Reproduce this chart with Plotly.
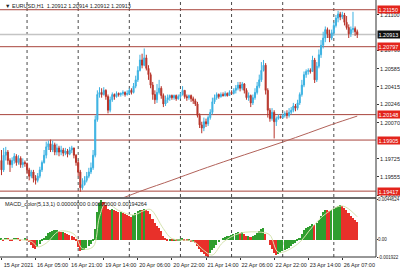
import plotly.graph_objects as go

# ---------------- data ----------------
first_open = 1.1971
closes = [1.1962,1.1976,1.1979,1.1971,1.1967,1.1971,1.1975,1.1969,1.1973,1.1967,
          1.1969,1.1968,1.1962,1.1956,1.1960,1.1954,1.1952,1.1956,1.1962,1.1969,
          1.1976,1.1984,1.1987,1.1981,1.1986,1.1979,1.1983,1.1979,1.1981,1.1978,
          1.1980,1.1977,1.1981,1.1983,1.1976,1.1969,1.1960,1.1945,1.1948,1.1952,
          1.1956,1.1960,1.1964,1.1976,1.2010,1.2034,1.2036,1.2034,1.2038,1.2032,
          1.2019,1.2029,1.2034,1.2032,1.2035,1.2034,1.2035,1.2036,1.2034,1.2035,
          1.2038,1.2036,1.2042,1.2048,1.2057,1.2067,1.2062,1.2069,1.2059,1.2053,
          1.2043,1.2034,1.2029,1.2036,1.2040,1.2033,1.2025,1.2029,1.2031,1.2033,
          1.2031,1.2033,1.2030,1.2032,1.2034,1.2038,1.2032,1.2031,1.2033,1.2030,
          1.2028,1.2025,1.2014,1.2005,1.2002,1.2008,1.2006,1.2012,1.2017,1.2027,
          1.2031,1.2034,1.2032,1.2034,1.2033,1.2035,1.2033,1.2036,1.2035,1.2038,
          1.2040,1.2043,1.2040,1.2044,1.2038,1.2031,1.2033,1.2026,1.2031,1.2036,
          1.2042,1.2048,1.2057,1.2062,1.2038,1.2019,1.2011,1.2017,1.2008,1.2011,
          1.2013,1.2012,1.2014,1.2016,1.2014,1.2017,1.2019,1.2023,1.2021,1.2026,
          1.2034,1.2043,1.2053,1.2056,1.2057,1.2056,1.2067,1.2048,1.2061,1.2072,
          1.2081,1.2088,1.2096,1.2092,1.2088,1.2093,1.2100,1.2107,1.2111,1.2108,
          1.2110,1.2103,1.2098,1.2092,1.2096,1.2097,1.2094,1.20913]
highs = [1.1981,1.1983,1.1984,1.1981,1.1973,1.1974,1.1978,1.1977,1.1976,1.1975,
         1.1973,1.1971,1.1969,1.1964,1.1962,1.1962,1.1957,1.1959,1.1965,1.1971,
         1.1981,1.1989,1.1990,1.1991,1.1990,1.1988,1.1987,1.1985,1.1985,1.1983,
         1.1983,1.1982,1.1984,1.1985,1.1983,1.1977,1.1971,1.1962,1.1954,1.1956,
         1.1960,1.1964,1.1969,1.1981,1.2014,1.2038,1.2041,1.2040,1.2041,1.2039,
         1.2034,1.2032,1.2036,1.2035,1.2037,1.2036,1.2036,1.2038,1.2037,1.2038,
         1.2040,1.2040,1.2045,1.2052,1.2061,1.2072,1.2073,1.2078,1.2072,1.2062,
         1.2055,1.2046,1.2038,1.2044,1.2048,1.2042,1.2035,1.2033,1.2034,1.2034,
         1.2034,1.2034,1.2034,1.2034,1.2036,1.2042,1.2038,1.2034,1.2034,1.2034,
         1.2032,1.2030,1.2027,1.2016,1.2008,1.2012,1.2011,1.2014,1.2020,1.2031,
         1.2034,1.2036,1.2035,1.2036,1.2036,1.2037,1.2036,1.2038,1.2038,1.2040,
         1.2043,1.2046,1.2046,1.2046,1.2045,1.2040,1.2036,1.2034,1.2034,1.2040,
         1.2046,1.2053,1.2065,1.2067,1.2064,1.2040,1.2021,1.2021,1.2019,1.2013,
         1.2015,1.2014,1.2016,1.2018,1.2019,1.2021,1.2022,1.2026,1.2025,1.2029,
         1.2036,1.2048,1.2056,1.2058,1.2059,1.2059,1.2071,1.2069,1.2065,1.2077,
         1.2086,1.2094,1.2099,1.2098,1.2096,1.2096,1.2103,1.2110,1.2114,1.2113,
         1.2113,1.2112,1.2109,1.2101,1.2099,1.2113,1.2099,1.2096]
lows = [1.1957,1.1960,1.1971,1.1967,1.1960,1.1964,1.1968,1.1966,1.1967,1.1964,
        1.1964,1.1965,1.1958,1.1952,1.1954,1.1950,1.1948,1.1950,1.1954,1.1960,
        1.1968,1.1973,1.1981,1.1979,1.1979,1.1976,1.1976,1.1975,1.1976,1.1975,
        1.1976,1.1974,1.1976,1.1978,1.1973,1.1966,1.1956,1.1941,1.1943,1.1947,
        1.1950,1.1954,1.1958,1.1962,1.1974,1.2008,1.2031,1.2031,1.2033,1.2029,
        1.2016,1.2017,1.2027,1.2029,1.2031,1.2032,1.2032,1.2033,1.2032,1.2033,
        1.2034,1.2034,1.2035,1.2040,1.2046,1.2056,1.2059,1.2061,1.2057,1.2048,
        1.2040,1.2029,1.2025,1.2026,1.2034,1.2030,1.2022,1.2023,1.2026,1.2028,
        1.2029,1.2029,1.2028,1.2029,1.2030,1.2033,1.2030,1.2028,1.2029,1.2027,
        1.2025,1.2023,1.2012,1.2002,1.1997,1.1999,1.2003,1.2004,1.2010,1.2015,
        1.2025,1.2029,1.2030,1.2031,1.2032,1.2032,1.2032,1.2033,1.2034,1.2034,
        1.2035,1.2038,1.2037,1.2038,1.2035,1.2029,1.2028,1.2022,1.2024,1.2029,
        1.2034,1.2040,1.2046,1.2056,1.2034,1.2012,1.2008,1.2009,1.1992,1.2004,
        1.2010,1.2011,1.2011,1.2012,1.2011,1.2012,1.2015,1.2017,1.2018,1.2019,
        1.2024,1.2032,1.2041,1.2050,1.2053,1.2054,1.2056,1.2045,1.2046,1.2059,
        1.2069,1.2078,1.2084,1.2088,1.2084,1.2086,1.2090,1.2098,1.2103,1.2105,
        1.2106,1.2100,1.2096,1.2088,1.2089,1.2093,1.2090,1.2088]
opens = [first_open] + closes[:-1]
bars = list(range(len(closes)))

ma_bars = [54, 58, 66, 80, 93, 108, 120, 132, 144, 155, 167]
ma_vals = [1.19331, 1.19360, 1.19422, 1.19522, 1.19618, 1.19723, 1.19804,
           1.19886, 1.19972, 1.20053, 1.20134]

macd = [0.0001,-0.0001,0.0002,0.0001,-0.0001,-0.0002,0.0001,0.0002,0.0001,-0.0001,
        0.0000,0.0001,-0.0001,-0.0003,-0.0006,-0.0009,-0.0010,-0.0008,-0.0005,-0.0002,
        0.0001,0.0004,0.0007,0.0008,0.0009,0.0010,0.0011,0.0009,0.0008,0.0008,
        0.0007,0.0006,0.0005,0.0004,0.0003,-0.0002,-0.0008,-0.0013,-0.0012,-0.0011,
        -0.0009,-0.0007,-0.0005,-0.0002,0.0012,0.0030,0.0040,0.0044,0.0041,0.0038,
        0.0034,0.0033,0.0034,0.0032,0.0031,0.0030,0.0030,0.0029,0.0028,0.0027,
        0.0026,0.0025,0.0027,0.0029,0.0031,0.0033,0.0032,0.0034,0.0033,0.0031,
        0.0028,0.0023,0.0018,0.0015,0.0013,0.0009,0.0004,0.0002,-0.0001,-0.0001,
        -0.0002,-0.0001,-0.0002,-0.0002,-0.0001,0.0001,-0.0001,-0.0002,-0.0002,-0.0003,
        -0.0003,-0.0004,-0.0007,-0.0010,-0.0014,-0.0016,-0.0018,-0.0019,-0.0015,-0.0012,
        -0.0009,-0.0006,-0.0003,0.0000,0.0002,0.0003,0.0004,0.0004,0.0005,0.0006,
        0.0007,0.0008,0.0007,0.0008,0.0006,0.0004,0.0004,0.0003,0.0004,0.0005,
        0.0007,0.0009,0.0012,0.0013,0.0006,0.0000,-0.0006,-0.0010,-0.0015,-0.0017,
        -0.0016,-0.0015,-0.0013,-0.0012,-0.0010,-0.0009,-0.0007,-0.0005,-0.0004,-0.0002,
        0.0002,0.0006,0.0010,0.0013,0.0014,0.0015,0.0017,0.0016,0.0018,0.0022,
        0.0026,0.0030,0.0033,0.0032,0.0031,0.0032,0.0034,0.0036,0.0037,0.0038,
        0.0037,0.0035,0.0032,0.0029,0.0026,0.0024,0.0021,0.0019]

sig_bars = [0, 14, 17, 21, 27, 34, 38, 43, 46, 49, 55, 62, 67, 70, 76, 80, 90, 95, 99,
            104, 112, 122, 126, 130, 139, 146, 152, 160, 167]
sig_vals = [0.0, -0.0002, -0.0008, -0.0004, 0.0009, 0.0006, -0.0010, -0.0008, 0.0025,
            0.0040, 0.0032, 0.0027, 0.0032, 0.0033, 0.0012, 0.0001, -0.0002, -0.0012,
            -0.0017, -0.0003, 0.0007, 0.0008, 0.0005, -0.0014, -0.0005, 0.0014, 0.0028,
            0.0037, 0.0025]

level_prices = [1.21150, 1.20797, 1.20148, 1.19905, 1.19417]
bid_price = 1.20913
price_ticks = [1.21100, 1.20760, 1.20585, 1.20415, 1.20246, 1.20070,
               1.19725, 1.19555, 1.19380]
macd_ticks = [0.0044624, 0.0, -0.001922]
macd_tick_text = ["0.0044624", "0.00", "-0.001922"]
time_bars = [0, 16, 32, 48, 64, 80, 96, 112, 128, 144, 160]
time_labels = ["15 Apr 2021", "16 Apr 05:00", "16 Apr 21:00", "19 Apr 14:00",
               "20 Apr 06:00", "20 Apr 22:00", "21 Apr 14:00", "22 Apr 06:00",
               "22 Apr 22:00", "23 Apr 14:00", "26 Apr 07:00"]
grid_bars = [12, 36, 60, 84, 108, 132, 156]
header_text = "\u25bc EURUSD,H1  1.20912 1.20914 1.20912 1.20913"
macd_label = "MACD_color(5,13,1) 0.00000000 0.00000000 0.00194264"

# ---------------- style ----------------
FONT = "Liberation Sans"
FS = 5.5
UP = "#3cb2e2"
DOWN = "#b8342a"
GREEN = "#2f9e2f"
RED = "#e8302a"
LEVEL = "#a8443c"

W, H = 400, 270
ML, MR, MT, MB = 0, 24, 0, 13
PH = H - MT - MB  # 257
main_bottom = (PH - 197) / PH
macd_top = (PH - 199) / PH

macd_colors = [GREEN]
for i in range(1, len(macd)):
    macd_colors.append(GREEN if macd[i] >= macd[i - 1] else RED)

fig = go.Figure()

fig.add_trace(go.Candlestick(
    x=bars, open=opens, high=highs, low=lows, close=closes,
    xaxis="x", yaxis="y",
    increasing=dict(line=dict(color=UP, width=1), fillcolor=UP),
    decreasing=dict(line=dict(color=DOWN, width=1), fillcolor=DOWN),
    whiskerwidth=0, hoverinfo="skip", showlegend=False,
))
fig.add_trace(go.Scatter(
    x=ma_bars, y=ma_vals, mode="lines", xaxis="x", yaxis="y",
    line=dict(color="#b2625a", width=1, shape="spline"), showlegend=False,
    hoverinfo="skip",
))
fig.add_trace(go.Bar(
    x=bars, y=macd, xaxis="x2", yaxis="y2", width=0.72,
    marker=dict(color=macd_colors, line=dict(width=0)), showlegend=False,
    hoverinfo="skip",
))
fig.add_trace(go.Scatter(
    x=sig_bars, y=sig_vals, mode="lines", xaxis="x2", yaxis="y2",
    line=dict(color="#d6e4b0", width=1, shape="spline"), showlegend=False,
    hoverinfo="skip",
))

xrange = [-0.70, 175.8]
shapes = []
for g in grid_bars:
    shapes.append(dict(type="line", xref="x", yref="paper", x0=g, x1=g, y0=0, y1=1,
                       line=dict(color="#4a4a4a", width=1, dash="dot"), layer="below"))
for lv in level_prices:
    shapes.append(dict(type="line", xref="paper", yref="y", x0=0, x1=1, y0=lv, y1=lv,
                       line=dict(color=LEVEL, width=1), layer="below"))
shapes.append(dict(type="line", xref="paper", yref="y", x0=0, x1=1, y0=bid_price,
                   y1=bid_price, line=dict(color="#c4c4c4", width=1.5), layer="below"))
shapes.append(dict(type="rect", xref="paper", yref="paper", x0=0, x1=1,
                   y0=macd_top, y1=main_bottom, fillcolor="#6a6a6a",
                   line=dict(width=0)))
shapes.append(dict(type="line", xref="paper", yref="paper", x0=1, x1=1, y0=0, y1=1,
                   line=dict(color="#303030", width=1)))
shapes.append(dict(type="line", xref="paper", yref="paper", x0=0, x1=1, y0=0, y1=0,
                   line=dict(color="#303030", width=1)))

annotations = [
    dict(text=header_text, xref="paper", yref="paper", x=0.008, y=1 - 6 / PH,
         xanchor="left", yanchor="middle", showarrow=False,
         font=dict(family=FONT, size=FS, color="#222")),
    dict(text=macd_label, xref="paper", yref="paper", x=0.008, y=(PH - 203.5) / PH,
         xanchor="left", yanchor="middle", showarrow=False,
         font=dict(family=FONT, size=FS, color="#222")),
]
for lv in level_prices:
    annotations.append(dict(text="%.5f" % lv, xref="paper", yref="y", x=1, y=lv,
                            xanchor="left", yanchor="middle", xshift=1, showarrow=False,
                            bgcolor="#e3241c", width=22, align="left", borderpad=0.5,
                            font=dict(family=FONT, size=FS, color="white")))
annotations.append(dict(text="%.5f" % bid_price, xref="paper", yref="y", x=1, y=bid_price,
                        xanchor="left", yanchor="middle", xshift=1, showarrow=False,
                        bgcolor="#111111", width=22, align="left", borderpad=0.5,
                        font=dict(family=FONT, size=FS, color="white")))

y2_cfg = dict(domain=[0, macd_top], anchor="x2", side="right",
              range=[-0.001922, 0.0044624], tickmode="array", tickvals=macd_ticks,
              ticktext=macd_tick_text, ticks="outside", ticklen=1, tickcolor="#333",
              showgrid=False, zeroline=False, showline=False, automargin=False,
              ticklabeloverflow="allow",
              tickfont=dict(family=FONT, size=4.5, color="#222"))

fig.update_layout(
    width=W, height=H, margin=dict(l=ML, r=MR, t=MT, b=MB, pad=0),
    paper_bgcolor="white", plot_bgcolor="white", showlegend=False,
    template="none", bargap=0,
    font=dict(family=FONT, size=FS, color="#222"),
    xaxis=dict(domain=[0, 1], anchor="y", range=xrange, showticklabels=False,
               showgrid=False, zeroline=False, showline=False, ticks="",
               rangeslider=dict(visible=False), automargin=False),
    xaxis2=dict(domain=[0, 1], anchor="y2", matches="x", range=xrange,
                tickmode="array", tickvals=time_bars, ticktext=time_labels,
                ticks="outside", ticklen=2, tickcolor="#333", showgrid=False,
                zeroline=False, showline=False, ticklabelshift=17,
                ticklabeloverflow="allow", automargin=False,
                tickfont=dict(family=FONT, size=FS, color="#222")),
    yaxis=dict(domain=[main_bottom, 1], anchor="x", side="right",
               range=[1.19361, 1.21243], tickmode="array", tickvals=price_ticks,
               ticktext=["%.5f" % v for v in price_ticks], ticks="outside",
               ticklen=2, tickcolor="#333", showgrid=False, zeroline=False,
               showline=False, automargin=False, ticklabeloverflow="allow",
               tickfont=dict(family=FONT, size=FS, color="#222")),
    yaxis2=y2_cfg,
    shapes=shapes, annotations=annotations,
)
try:
    fig.update_layout(yaxis2=dict(ticklabelstandoff=-1))
except Exception:
    pass

fig.write_html("out.html")
